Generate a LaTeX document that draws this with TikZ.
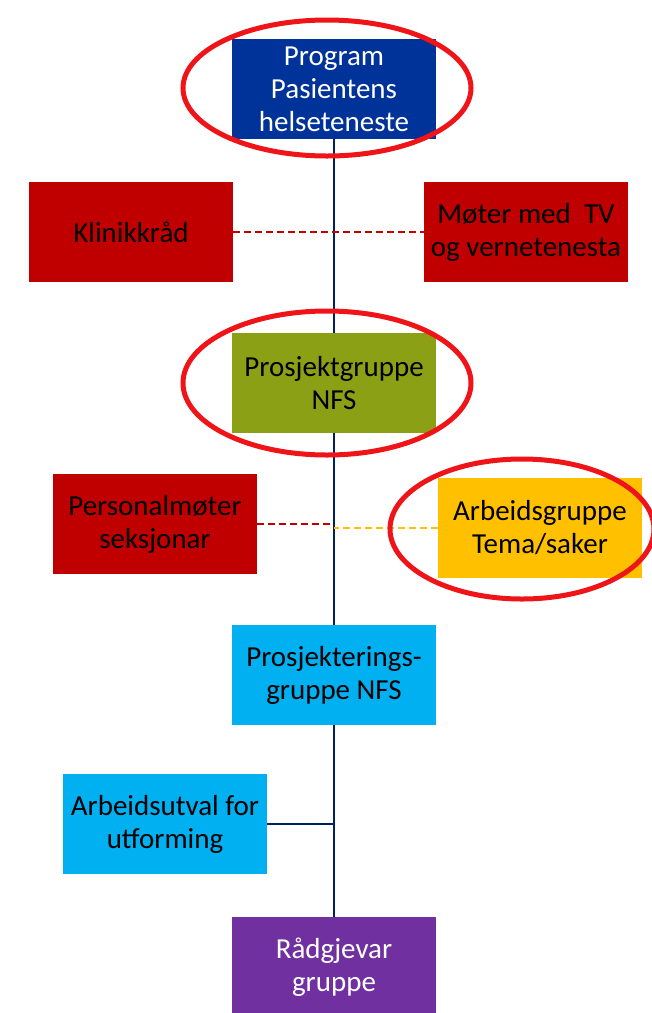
\documentclass[tikz,border=0pt]{standalone}
\usepackage{fontspec}
\setmainfont{Carlito}
\definecolor{progBlue}{RGB}{0,51,153}
\definecolor{boxRed}{RGB}{192,0,0}
\definecolor{boxGreen}{RGB}{140,160,22}
\definecolor{boxYellow}{RGB}{255,192,0}
\definecolor{boxCyan}{RGB}{0,176,240}
\definecolor{boxPurple}{RGB}{112,48,160}
\definecolor{spineNavy}{RGB}{0,32,96}
\definecolor{ringRed}{RGB}{238,20,24}
\tikzset{
  orgBox/.style = {minimum width=204pt, minimum height=100pt, inner sep=0pt,
    align=center, font=\fontsize{29}{33}\selectfont},
  spine/.style = {draw=spineNavy, line width=2.2pt},
  redDash/.style = {draw=boxRed, line width=2pt, dash pattern=on 7pt off 4pt},
  yellowDash/.style = {draw=boxYellow, line width=2pt, dash pattern=on 7pt off 4pt},
  ring/.style = {draw=ringRed, line width=5pt}
}
\usetikzlibrary{calc, positioning}

\begin{document}
\begin{tikzpicture}[x=1pt, y=-1pt]
  \useasboundingbox (0,0) rectangle (652,1013);

  \node[orgBox, fill=progBlue, text=white] (prog) at (334, 89) {Program\\Pasientens\\helseteneste};

  \node[orgBox, fill=boxRed] (klinikk) at (131, 232) {Klinikkråd};
  \node[orgBox, fill=boxRed] (moter) at (526, 232) {Møter med~ TV\\og vernetenesta};

  \node[orgBox, fill=boxGreen] (prosjGr) at (334, 383) {Prosjektgruppe\\NFS};

  \node[orgBox, fill=boxRed] (persMote) at (155, 524) {Personalmøter\\seksjonar};
  \node[orgBox, fill=boxYellow] (arbGr) at (540, 528) {Arbeidsgruppe\\Tema/saker};

  \node[orgBox, fill=boxCyan] (prosjekt) at (334, 675) {Prosjekterings-\\gruppe NFS};
  \node[orgBox, fill=boxCyan] (utval) at (165, 824) {Arbeidsutval for\\utforming};

  \node[orgBox, fill=boxPurple, text=white] (raad) at (334, 967) {Rådgjevar\\gruppe};

  \draw[spine] (prog.south) -- (prosjGr.north);
  \draw[spine] (prosjGr.south) -- (prosjekt.north);
  \draw[spine] (prosjekt.south) -- (raad.north);
  \draw[redDash] (klinikk.east) -- (moter.west);
  \draw[redDash] (persMote.east) -- (persMote.east -| prog.south);
  \draw[yellowDash] (arbGr.west) -- (arbGr.west -| prog.south);
  \draw[spine] (utval.east) -- (utval.east -| prog.south);

  % ringed units
  \draw[ring] (327, 88) ellipse [x radius=144pt, y radius=68pt];
  \draw[ring] (327, 383) ellipse [x radius=144pt, y radius=72pt];
  \draw[ring] (522, 529) ellipse [x radius=132pt, y radius=70pt];
\end{tikzpicture}
\end{document}
